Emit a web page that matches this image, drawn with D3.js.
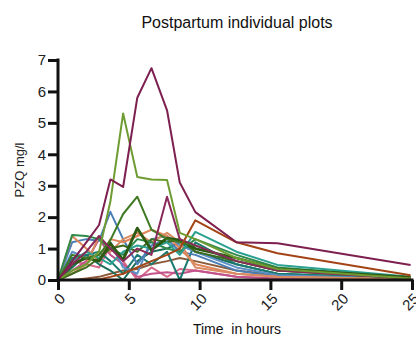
<!DOCTYPE html>
<html>
<head>
<meta charset="utf-8">
<script src="https://cdn.jsdelivr.net/npm/d3@7/dist/d3.min.js"></script>
<style>
body{margin:0;background:#fff;}
svg{font-family:"Liberation Sans",Arial,sans-serif;}
</style>
</head>
<body>
<div id="chart"></div>
<script>
var w = 416;
var h = 342;
// plot box edges
var plotLeft = 58, plotRight = 412, plotTop = 60, plotBottom = 280;

// sample times (hours), shared by every subject
var times = [0, 1, 2, 2.9, 3.7, 4.6, 5.6, 6.6, 7.7, 8.6, 9.7, 12.6, 15.5, 24.9];

// PZQ concentration (mg/l) per subject
var subj01 = [0, 0.6, 1.2, 1.75, 3.2, 2.96, 5.8, 6.74, 5.4, 3.1, 2.16, 1.2, 1.17, 0.48];
var subj02 = [0, 0.3, 0.5, 0.9, 2.5, 5.3, 3.28, 3.2, 3.18, 1.5, 1.3, 0.7, 0.35, 0.05];
var subj03 = [0, 0.8, 0.7, 0.8, 1.27, 2.1, 2.65, 1.6, 1.3, 1.2, 1.1, 0.6, 0.3, 0.05];
var subj04 = [0, 0.5, 0.7, 0.6, 1.17, 0.64, 1.65, 0.95, 1.33, 1.27, 1.0, 0.7, 0.35, 0.08];
var subj05 = [0, 1.2, 1.3, 1.25, 2.17, 1.3, 0.5, 1.1, 1.3, 0.9, 0.8, 0.3, 0.1, 0.02];
var subj06 = [0, 1.4, 1.0, 0.6, 1.3, 1.2, 1.4, 1.6, 1.4, 1.0, 0.5, 0.2, 0.1, 0.02];
var subj07 = [0, 0, 0, 0.02, 0.1, 0.2, 0.4, 0.6, 0.8, 1.0, 1.9, 1.2, 0.85, 0.15];
var subj08 = [0, 0.6, 0.9, 0.7, 0.5, 0.9, 1.1, 1.0, 1.2, 0.8, 1.53, 0.9, 0.48, 0.1];
var subj09 = [0, 1.43, 1.4, 1.3, 1.0, 0.8, 1.3, 1.2, 1.0, 0.9, 1.3, 0.8, 0.4, 0.08];
var subj10 = [0, 0.3, 0.6, 1.3, 0.8, 0.5, 0.1, 0.2, 0.25, 0.2, 0.3, 0.1, 0.05, 0];
var subj11 = [0, 0.5, 0.9, 1.4, 1.0, 0.6, 1.0, 0.8, 2.65, 1.3, 1.1, 0.6, 0.3, 0.05];
var subj12 = [0, 0.7, 0.8, 0.9, 0.6, 0.2, 0.8, 0.5, 0.9, 0, 1.2, 0.5, 0.2, 0.05];
var subj13 = [0, 0.9, 0.7, 0.8, 1.2, 0.4, 0.2, 1.3, 1.4, 1.1, 0.9, 0.4, 0.15, 0.03];
var subj14 = [0, 0.2, 0.5, 1.4, 0.9, 1.3, 1.5, 1.2, 1.5, 1.2, 0.4, 0.2, 0.1, 0.02];
var subj15 = [0, 0.4, 0.8, 0.5, 0.3, 0, 0.6, 0.9, 1.0, 1.2, 0.9, 0.5, 0.2, 0.04];
var subj16 = [0, 0, 0.05, 0.1, 0.2, 0.3, 0.35, 0.5, 0.6, 0.7, 0.6, 0.3, 0.15, 0.05];
var subj17 = [0, 0.2, 0.4, 0.7, 1.0, 1.1, 0.9, 1.3, 1.2, 1.3, 0.9, 0.6, 0.3, 0.06];
var subj18 = [0, 0.6, 0.5, 0.4, 1.1, 0.6, 0, 0.4, 0.1, 0.35, 0.3, 0.1, 0.04, 0];

var subjects = [subj16, subj18, subj10, subj15, subj12, subj13, subj05, subj06, subj14,
                subj17, subj09, subj08, subj04, subj03, subj11, subj07, subj02, subj01];
var colors = ["#8b5a3a", "#d86b8a", "#c2528b", "#1a6e5a", "#1b7a70", "#5b8fc5", "#4a7fb5",
              "#e0855a", "#d88a60", "#3d6b1e", "#2e8a4a", "#2aa090", "#2d5a12", "#3f7a22",
              "#8a2a5a", "#a24416", "#6f9c32", "#7d1f4f"];

var xTicks = [0, 5, 10, 15, 20, 25];
var yTicks = [0, 1, 2, 3, 4, 5, 6, 7];

var xScale = d3.scaleLinear().domain([0, 25]).range([plotLeft, plotRight]);
var yScale = d3.scaleLinear().domain([0, 7]).range([plotBottom, plotTop]);

var svg = d3.select("#chart").append("svg")
  .attr("width", w)
  .attr("height", h);

var line = d3.line()
  .x(function(d, i) { return xScale(times[i]); })
  .y(function(d) { return yScale(d); });

svg.selectAll(".subj")
  .data(subjects)
  .enter().append("path")
  .attr("class", "subj")
  .attr("d", line)
  .attr("fill", "none")
  .attr("stroke", function(d, i) { return colors[i]; })
  .attr("stroke-width", function(d, i) { return i === 12 ? 2.8 : 2; })
  .attr("stroke-linejoin", "round");

// axes
var yAxis = svg.append("g")
  .attr("transform", "translate(" + plotLeft + ",0)")
  .call(d3.axisLeft(yScale).tickValues(yTicks).tickFormat(d3.format("d")).tickSize(10).tickPadding(2));

var xAxis = svg.append("g")
  .attr("transform", "translate(0," + plotBottom + ")")
  .call(d3.axisBottom(xScale).tickValues(xTicks).tickFormat(d3.format("d")).tickSize(10));

[yAxis, xAxis].forEach(function(a) {
  a.select(".domain").attr("stroke", "#111").attr("stroke-width", 3);
  a.selectAll(".tick line").attr("stroke", "#111").attr("stroke-width", 3);
});
yAxis.select(".domain").attr("d", "M0," + (plotTop - 1.5) + "V" + (plotBottom + 1.5));
xAxis.select(".domain").attr("d", "M" + plotLeft + ",0H" + (plotRight + 1.5));

yAxis.selectAll(".tick text").attr("font-size", 15).attr("fill", "#222");
xAxis.selectAll(".tick text")
  .attr("font-size", 15)
  .attr("fill", "#222")
  .attr("text-anchor", "end")
  .attr("dy", "0.35em")
  .attr("y", 0)
  .attr("transform", "translate(4,16) rotate(-45)");

// titles
svg.append("text")
  .attr("x", 237)
  .attr("y", 28)
  .attr("text-anchor", "middle")
  .attr("font-size", 16)
  .attr("fill", "#111")
  .text("Postpartum individual plots");

svg.append("text")
  .attr("transform", "translate(24," + ((plotTop + plotBottom) / 2) + ") rotate(-90)")
  .attr("text-anchor", "middle")
  .attr("font-size", 13)
  .attr("fill", "#222")
  .text("PZQ mg/l");

svg.append("text")
  .attr("x", 237)
  .attr("y", 334)
  .attr("text-anchor", "middle")
  .attr("font-size", 14)
  .attr("fill", "#111")
  .style("white-space", "pre")
  .text("Time  in hours");
</script>
</body>
</html>
